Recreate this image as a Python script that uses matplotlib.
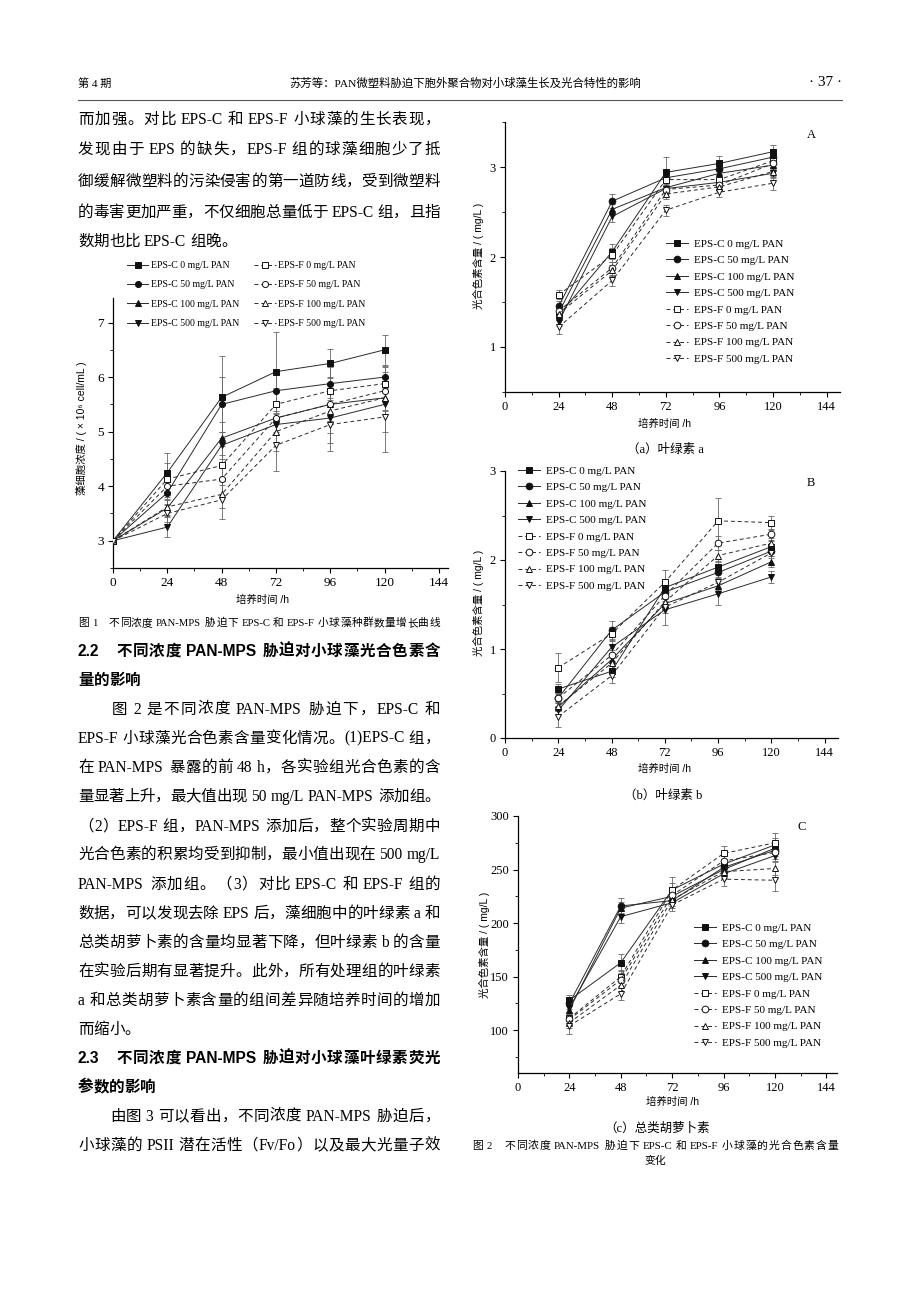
import re
import matplotlib
matplotlib.use('Agg')
import matplotlib.pyplot as plt
from matplotlib.lines import Line2D
from matplotlib.ticker import MultipleLocator
from matplotlib.font_manager import FontProperties, findfont
from matplotlib.ft2font import FT2Font

W, H = 920, 1302

# ---------------- data ----------------
series_labels = ['EPS-C 0 mg/L PAN', 'EPS-C 50 mg/L PAN', 'EPS-C 100 mg/L PAN', 'EPS-C 500 mg/L PAN',
                 'EPS-F 0 mg/L PAN', 'EPS-F 50 mg/L PAN', 'EPS-F 100 mg/L PAN', 'EPS-F 500 mg/L PAN']
x_ticks = [0, 24, 48, 72, 96, 120, 144]

growth_time = [0, 24, 48, 72, 96, 120]
growth_mean = [
    [3.0, 4.25, 5.63, 6.10, 6.25, 6.50],
    [3.0, 3.88, 5.50, 5.75, 5.88, 6.00],
    [3.0, 3.60, 4.88, 5.25, 5.50, 5.62],
    [3.0, 3.25, 4.75, 5.13, 5.25, 5.50],
    [3.0, 4.13, 4.38, 5.50, 5.75, 5.88],
    [3.0, 4.00, 4.13, 5.25, 5.50, 5.75],
    [3.0, 3.62, 3.85, 5.00, 5.38, 5.62],
    [3.0, 3.50, 3.75, 4.75, 5.13, 5.27],
]
growth_err = [
    [0, 0.35, 0.75, 0.72, 0.27, 0.27],
    [0, 0.20, 0.50, 0.30, 0.30, 0.20],
    [0, 0.15, 0.30, 0.25, 0.30, 0.25],
    [0, 0.18, 0.25, 0.20, 0.45, 0.50],
    [0, 0.30, 0.35, 0.30, 0.25, 0.30],
    [0, 0.20, 0.30, 0.30, 0.30, 0.35],
    [0, 0.15, 0.25, 0.35, 0.40, 0.30],
    [0, 0.15, 0.35, 0.48, 0.48, 0.65],
]

pig_time = [24, 48, 72, 96, 120]
chla_mean = [
    [1.35, 2.06, 2.94, 3.04, 3.17],
    [1.45, 2.62, 2.88, 2.98, 3.11],
    [1.38, 2.53, 2.77, 2.93, 3.02],
    [1.28, 2.45, 2.76, 2.83, 2.93],
    [1.58, 2.02, 2.86, 2.86, 3.07],
    [1.40, 1.88, 2.75, 2.80, 3.04],
    [1.37, 1.85, 2.70, 2.78, 2.95],
    [1.22, 1.74, 2.52, 2.72, 2.82],
]
chla_err = [
    [0.05, 0.08, 0.17, 0.08, 0.08],
    [0.06, 0.08, 0.06, 0.06, 0.06],
    [0.05, 0.06, 0.05, 0.05, 0.05],
    [0.05, 0.06, 0.05, 0.05, 0.05],
    [0.05, 0.08, 0.06, 0.05, 0.05],
    [0.05, 0.06, 0.05, 0.05, 0.05],
    [0.05, 0.06, 0.06, 0.05, 0.05],
    [0.08, 0.06, 0.06, 0.05, 0.07],
]
chlb_mean = [
    [0.55, 0.75, 1.69, 1.92, 2.15],
    [0.45, 1.21, 1.64, 1.86, 2.10],
    [0.35, 0.88, 1.51, 1.71, 1.98],
    [0.31, 1.02, 1.44, 1.62, 1.81],
    [0.79, 1.17, 1.75, 2.44, 2.42],
    [0.45, 0.93, 1.60, 2.19, 2.29],
    [0.36, 0.84, 1.53, 2.05, 2.19],
    [0.24, 0.70, 1.47, 1.75, 2.08],
]
chlb_err = [
    [0.06, 0.06, 0.08, 0.06, 0.06],
    [0.06, 0.10, 0.08, 0.06, 0.06],
    [0.05, 0.06, 0.06, 0.05, 0.06],
    [0.05, 0.08, 0.17, 0.12, 0.07],
    [0.16, 0.08, 0.14, 0.26, 0.08],
    [0.06, 0.06, 0.06, 0.08, 0.06],
    [0.06, 0.06, 0.06, 0.06, 0.06],
    [0.12, 0.08, 0.06, 0.06, 0.06],
]
car_mean = [
    [128, 163, 231, 255, 273],
    [125, 216, 221, 252, 268],
    [119, 214, 225, 250, 270],
    [121, 206, 219, 246, 263],
    [111, 150, 231, 265, 275],
    [110, 147, 226, 258, 266],
    [107, 142, 222, 248, 251],
    [104, 134, 217, 241, 240],
]
car_err = [
    [5, 8, 6, 5, 6],
    [5, 7, 5, 6, 5],
    [4, 6, 5, 5, 5],
    [5, 6, 5, 5, 5],
    [5, 6, 12, 7, 9],
    [5, 6, 6, 6, 6],
    [5, 6, 6, 6, 6],
    [8, 6, 6, 6, 10],
]

# ---------------- text ----------------
header_left = '第 4 期'
header_mid = '苏芳等：PAN微塑料胁迫下胞外聚合物对小球藻生长及光合特性的影响'
header_right = '· 37 ·'

# (y, text, bold, justified)
body_lines = [
    (118, '而加强。对比 EPS-C 和 EPS-F 小球藻的生长表现，', False, True),
    (148, '发现由于 EPS 的缺失，EPS-F 组的球藻细胞少了抵', False, True),
    (180, '御缓解微塑料的污染侵害的第一道防线，受到微塑料', False, True),
    (211, '的毒害更加严重，不仅细胞总量低于 EPS-C 组，且指', False, True),
    (240, '数期也比 EPS-C 组晚。', False, False),
    (650, '2.2　不同浓度 PAN-MPS 胁迫对小球藻光合色素含', True, True),
    (679, '量的影响', True, False),
    (708, '　　图 2 是不同浓度 PAN-MPS 胁迫下，EPS-C 和', False, True),
    (737, 'EPS-F 小球藻光合色素含量变化情况。(1)EPS-C 组，', False, True),
    (766, '在 PAN-MPS 暴露的前 48 h，各实验组光合色素的含', False, True),
    (795, '量显著上升，最大值出现 50 mg/L PAN-MPS 添加组。', False, True),
    (825, '（2）EPS-F 组，PAN-MPS 添加后，整个实验周期中', False, True),
    (853, '光合色素的积累均受到抑制，最小值出现在 500 mg/L', False, True),
    (883, 'PAN-MPS 添加组。（3）对比 EPS-C 和 EPS-F 组的', False, True),
    (912, '数据，可以发现去除 EPS 后，藻细胞中的叶绿素 a 和', False, True),
    (941, '总类胡萝卜素的含量均显著下降，但叶绿素 b 的含量', False, True),
    (970, '在实验后期有显著提升。此外，所有处理组的叶绿素', False, True),
    (999, 'a 和总类胡萝卜素含量的组间差异随培养时间的增加', False, True),
    (1028, '而缩小。', False, False),
    (1057, '2.3　不同浓度 PAN-MPS 胁迫对小球藻叶绿素荧光', True, True),
    (1086, '参数的影响', True, False),
    (1115, '　　由图 3 可以看出，不同浓度 PAN-MPS 胁迫后，', False, True),
    (1144, '小球藻的 PSII 潜在活性（Fv/Fo）以及最大光量子效', False, True),
]

SERIF_CJK = ['Liberation Serif', 'Noto Sans CJK SC', 'DejaVu Sans']
SANS_CJK = ['Liberation Sans', 'Noto Sans CJK SC', 'DejaVu Sans']

plt.rcParams['font.family'] = SERIF_CJK
plt.rcParams['axes.linewidth'] = 0.9

fig = plt.figure(figsize=(W / 100, H / 100), dpi=100)
fig.patch.set_facecolor('white')


def ftext(x, y, s, **kw):
    return fig.text(x / W, 1 - y / H, s, **kw)


# ---------- justified text layout via glyph advances ----------
_font_cache = {}


def get_ft(family, weight):
    key = (family, weight)
    if key not in _font_cache:
        path = findfont(FontProperties(family=family, weight=weight))
        _font_cache[key] = FT2Font(path)
    return _font_cache[key]


def advance(s, family, weight, size):
    f = get_ft(family, weight)
    f.set_size(size, 100)
    total = 0.0
    for c in s:
        g = f.load_char(ord(c))
        total += g.linearHoriAdvance / 65536.0
    return total


def justified_line(x0, y, s, size, bold, width, justify):
    weight = 'bold' if bold else 'normal'
    latin = 'Liberation Sans' if bold else 'Liberation Serif'
    cjk = 'Noto Sans CJK SC'
    parts = re.findall(r'[\x21-\x7e]+| |[^\x00-\x7f]', s)
    tokens = []  # (text, family, adv, space_after)
    for p in parts:
        if p == ' ':
            if tokens:
                t = tokens[-1]
                tokens[-1] = (t[0], t[1], t[2], t[3] + advance(' ', latin, weight, size))
            continue
        fam = latin if ord(p[0]) < 128 else cjk
        tokens.append((p, fam, advance(p, fam, weight, size), 0.0))
    natural = sum(t[2] + t[3] for t in tokens) - tokens[-1][3]
    extra = 0.0
    if justify and len(tokens) > 1:
        extra = (width - natural) / (len(tokens) - 1)
    x = x0
    base = y + 0.36 * size * 100 / 72
    for txt, fam, adv, sp in tokens:
        fig.text(x / W, 1 - base / H, txt, fontsize=size, family=[fam],
                 fontweight=weight, va='baseline', ha='left')
        x += adv + sp + extra


def add_axes_px(left, top, right, bottom):
    return fig.add_axes([left / W, 1 - bottom / H, (right - left) / W, (bottom - top) / H])


markers = ['s', 'o', '^', 'v', 's', 'o', '^', 'v']


def draw_series(ax, t, means, errs, ms):
    handles = []
    for i in range(8):
        filled = i < 4
        ls = '-' if filled else (0, (4, 3))
        ax.errorbar(t, means[i], yerr=errs[i], fmt='none', ecolor='#666666',
                    elinewidth=0.6, capsize=2.2, capthick=0.6, zorder=2)
        ln, = ax.plot(t, means[i], linestyle=ls, color='#2a2a2a', lw=0.7,
                      marker=markers[i], ms=ms,
                      mfc='#111111' if filled else 'white', mec='#111111', mew=0.7,
                      label=series_labels[i], zorder=3)
        handles.append(ln)
    return handles


def setup(ax, xmax, ylim, ymajor, yminor, fs):
    ax.set_xlim(0, xmax)
    ax.set_ylim(*ylim)
    for s in ['top', 'right']:
        ax.spines[s].set_visible(False)
    ax.set_xticks(x_ticks)
    ax.xaxis.set_minor_locator(MultipleLocator(12))
    ax.yaxis.set_major_locator(MultipleLocator(ymajor))
    ax.yaxis.set_minor_locator(MultipleLocator(yminor))
    ax.tick_params(which='major', direction='out', length=3.5, width=0.8, labelsize=fs, pad=3)
    ax.tick_params(which='minor', direction='out', length=2, width=0.6)
    for lab in ax.get_xticklabels() + ax.get_yticklabels():
        lab.set_fontfamily('Liberation Serif')
    ax.set_facecolor('none')


def legend(ax, handles, x, y, fs, ncol=1, hl=2.0, htp=0.5, ls=0.6, cs=2.0):
    ax.legend(handles, [h.get_label() for h in handles], loc='upper left',
              bbox_to_anchor=(x / W, 1 - y / H), bbox_transform=fig.transFigure,
              frameon=False, borderpad=0, borderaxespad=0, handlelength=hl,
              handletextpad=htp, labelspacing=ls, columnspacing=cs, ncol=ncol,
              numpoints=1, prop=FontProperties(family='Liberation Serif', size=fs))


# ---------------- header ----------------
ftext(78, 83, header_left, fontsize=8, family=SERIF_CJK, va='center', ha='left')
ftext(465, 83, header_mid, fontsize=8.2, family=SERIF_CJK, va='center', ha='center')
ftext(842, 83, header_right, fontsize=11, family=SERIF_CJK, va='center', ha='right')
fig.add_artist(Line2D([78 / W, 842 / W], [1 - 100 / H, 1 - 100 / H], color='#555555', lw=0.8))

# ---------------- body text ----------------
for y, s, bold, just in body_lines:
    justified_line(78, y, s, 11.2, bold, 362, just)

# ---------------- Figure 1 ----------------
ax1 = add_axes_px(113, 298, 448, 568)
h1 = draw_series(ax1, growth_time, growth_mean, growth_err, ms=4.4)
setup(ax1, 148, (2.5, 7.45), 1, 0.5, 9.5)
legend(ax1, h1, 127, 261, 7, ncol=2, hl=2.2, htp=0.3, ls=1.07, cs=1.5)
ftext(82, 428, '藻细胞浓度 / ( × 10⁶ cell/mL )', rotation=90, fontsize=7.5,
      family=SANS_CJK, va='center', ha='center')
ftext(262, 600, '培养时间 /h', fontsize=7.5, family=SANS_CJK, va='center', ha='center')
justified_line(78, 622, '图 1　不同浓度 PAN-MPS 胁迫下 EPS-C 和 EPS-F 小球藻种群数量增长曲线',
               7.7, False, 362, True)

# ---------------- Figure 2A ----------------
axA = add_axes_px(505, 122, 840, 392)
hA = draw_series(axA, pig_time, chla_mean, chla_err, ms=4.8)
setup(axA, 150, (0.5, 3.5), 1, 0.5, 9)
legend(axA, hA, 666, 239, 8)
ftext(811, 135, 'A', fontsize=9, family=SERIF_CJK, va='center', ha='center')
ftext(478, 256, '光合色素含量 / ( mg/L )', rotation=90, fontsize=7.5, family=SANS_CJK,
      va='center', ha='center')
ftext(664, 424, '培养时间 /h', fontsize=7.5, family=SANS_CJK, va='center', ha='center')
ftext(665, 450, '（a）叶绿素 a', fontsize=9, family=SERIF_CJK, va='center', ha='center')

# ---------------- Figure 2B ----------------
axB = add_axes_px(505, 471, 838, 738)
hB = draw_series(axB, pig_time, chlb_mean, chlb_err, ms=4.8)
setup(axB, 150, (0, 3), 1, 0.5, 9)
legend(axB, hB, 518, 466, 8)
ftext(811, 483, 'B', fontsize=9, family=SERIF_CJK, va='center', ha='center')
ftext(478, 603, '光合色素含量 / ( mg/L )', rotation=90, fontsize=7.5, family=SANS_CJK,
      va='center', ha='center')
ftext(665, 769, '培养时间 /h', fontsize=7.5, family=SANS_CJK, va='center', ha='center')
ftext(663, 796, '（b）叶绿素 b', fontsize=9, family=SERIF_CJK, va='center', ha='center')

# ---------------- Figure 2C ----------------
axC = add_axes_px(518, 816, 837, 1073)
hC = draw_series(axC, pig_time, car_mean, car_err, ms=4.8)
setup(axC, 149, (60, 300), 50, 25, 9)
legend(axC, hC, 694, 923, 8)
ftext(802, 827, 'C', fontsize=9, family=SERIF_CJK, va='center', ha='center')
ftext(484, 945, '光合色素含量 / ( mg/L )', rotation=90, fontsize=7.5, family=SANS_CJK,
      va='center', ha='center')
ftext(673, 1102, '培养时间 /h', fontsize=7.5, family=SANS_CJK, va='center', ha='center')
ftext(657, 1129, '（c）总类胡萝卜素', fontsize=9, family=SERIF_CJK, va='center', ha='center')
justified_line(472, 1145, '图 2　不同浓度 PAN-MPS 胁迫下 EPS-C 和 EPS-F 小球藻的光合色素含量',
               7.8, False, 366, True)
ftext(655, 1161, '变化', fontsize=7.8, family=SANS_CJK, va='center', ha='center')

fig.savefig('out.png', dpi=100, facecolor='white')
